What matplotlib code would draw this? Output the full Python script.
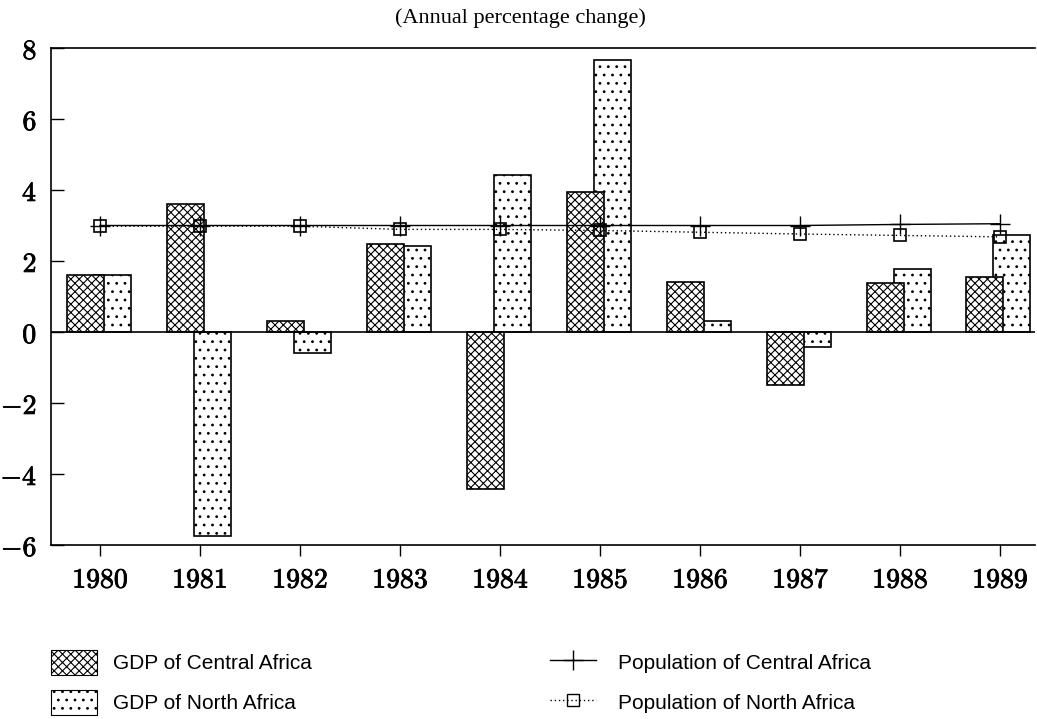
import matplotlib
matplotlib.use("Agg")
import matplotlib.pyplot as plt
import matplotlib.patheffects as pe
import numpy as np
from matplotlib.lines import Line2D
from matplotlib.patches import Patch

years = ['1980', '1981', '1982', '1983', '1984', '1985', '1986', '1987', '1988', '1989']
gdp_central = [1.61, 3.61, 0.30, 2.49, -4.41, 3.93, 1.42, -1.50, 1.38, 1.55]
gdp_north = [1.61, -5.75, -0.60, 2.41, 4.43, 7.65, 0.30, -0.42, 1.77, 2.74]
pop_central = [3.00, 3.00, 3.00, 3.00, 3.00, 3.00, 3.00, 3.00, 3.03, 3.05]
pop_north = [2.98, 2.98, 2.98, 2.89, 2.89, 2.86, 2.81, 2.76, 2.72, 2.68]
y_ticks = [-6, -4, -2, 0, 2, 4, 6, 8]

plt.rcParams['mathtext.fontset'] = 'cm'
plt.rcParams['hatch.linewidth'] = 0.8

fig = plt.figure(figsize=(10.37, 7.19), dpi=100)
ax = fig.add_axes([51/1037, 1-545/719, (1035-51)/1037, (545-48)/719])

x = np.arange(len(years))
w = 0.37
ax.bar(x + 0.12, gdp_north, width=w, facecolor='white', edgecolor='black',
       hatch='..', linewidth=1.2, zorder=2, label='GDP of North Africa')
ax.bar(x - 0.15, gdp_central, width=w, facecolor='white', edgecolor='black',
       hatch='xxxx', linewidth=1.2, zorder=3, label='GDP of Central Africa')
ax.axhline(0, color='black', linewidth=1.2, zorder=4)
ax.plot(x, pop_central, color='black', linewidth=1.0, marker='+', markersize=14,
        markeredgewidth=1.0, zorder=5)
ax.plot(x, pop_north, color='black', linewidth=1.0, linestyle=(0, (1, 2)),
        marker='s', markersize=9, markerfacecolor='none', markeredgecolor='black',
        markeredgewidth=1.2, zorder=6)

stroke = [pe.withStroke(linewidth=0.6, foreground='black')]
ax.set_xlim(-0.49, 9.35)
ax.set_ylim(-6, 8)
ax.set_yticks(y_ticks)
ax.set_yticklabels([r'$%d$' % v for v in y_ticks], fontsize=20)
ax.set_xticks(x)
ax.set_xticklabels(years, fontsize=20, family='cmr10')
for t in ax.get_xticklabels() + ax.get_yticklabels():
    t.set_path_effects(stroke)
ax.tick_params(axis='y', direction='in', length=9, width=1.0, pad=10)
ax.tick_params(axis='x', direction='out', length=8, width=1.0, pad=8)
ax.spines['right'].set_visible(False)
for s in ['left', 'top', 'bottom']:
    ax.spines[s].set_linewidth(1.2)

fig.text(520/1037, 1-18/719, '(Annual percentage change)', ha='center', va='center',
         fontsize=16, family='Liberation Serif')

h1 = [Patch(facecolor='white', edgecolor='black', hatch='xxxx', linewidth=0.8),
      Patch(facecolor='white', edgecolor='black', hatch='..', linewidth=0.8)]
l1 = ['GDP of Central Africa', 'GDP of North Africa']
leg1 = fig.legend(h1, l1, loc='upper left', bbox_to_anchor=(32/1037, 1-631/719),
                  frameon=False, prop={'family': 'Liberation Sans', 'size': 15},
                  handlelength=2.2, handleheight=1.5, handletextpad=0.8, labelspacing=0.7)
h2 = [Line2D([], [], color='black', linewidth=1.0, marker='+', markersize=14),
      Line2D([], [], color='black', linewidth=1.0, linestyle=(0, (1, 2)), marker='s',
             markersize=9, markerfacecolor='none')]
l2 = ['Population of Central Africa', 'Population of North Africa']
leg2 = fig.legend(h2, l2, loc='upper left', bbox_to_anchor=(531/1037, 1-631/719),
                  frameon=False, prop={'family': 'Liberation Sans', 'size': 15},
                  handlelength=2.2, handleheight=1.5, handletextpad=1.1, labelspacing=0.7)

fig.savefig('out.png', dpi=100)
